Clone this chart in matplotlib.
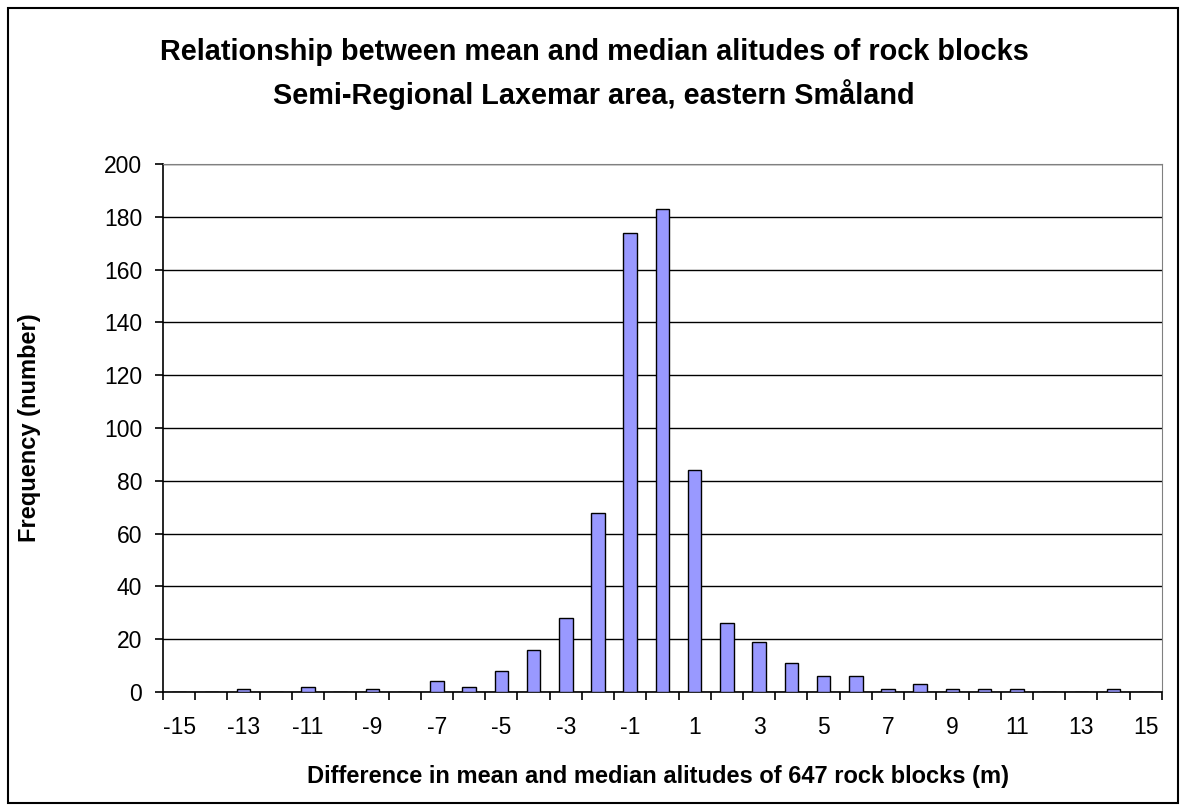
import numpy as np
import matplotlib.pyplot as plt
from matplotlib.patches import Rectangle

plt.rcParams['font.family'] = ['Liberation Sans', 'DejaVu Sans']
plt.rcParams['axes.unicode_minus'] = False

# difference classes (m) and number of rock blocks in each
diff = list(range(-15, 16))
freq = [0, 0, 1, 0, 2, 0, 1, 0, 4, 2, 8, 16, 28, 68, 174, 183,
        84, 26, 19, 11, 6, 6, 1, 3, 1, 1, 1, 0, 0, 1, 0]
label_ticks = list(range(-15, 16, 2))
yticks = list(range(0, 201, 20))

fig = plt.figure(figsize=(11.86, 8.11), dpi=100)
ax = fig.add_axes([0.1374, 0.1467, 0.8423, 0.651])

# black outer frame round the whole chart
fig.patches.append(Rectangle((8/1186, 8/811), 1170/1186, 795/811, transform=fig.transFigure,
                             fill=False, edgecolor='black', linewidth=1.5))

ax.bar(diff, freq, width=0.42, color='#9999FF', edgecolor='black', linewidth=1.0, zorder=3)

ax.set_xlim(-15.5, 15.5)
ax.set_ylim(0, 200)
ax.set_yticks(yticks)
ax.yaxis.grid(True, color='black', linewidth=1.0, zorder=0)
ax.set_axisbelow(True)

# category ticks sit between bars, labels on every second class
ax.set_xticks(np.arange(-15.5, 16, 1), minor=True)
ax.set_xticks(label_ticks)
ax.set_xticklabels([str(t) for t in label_ticks])
ax.tick_params(axis='x', which='major', length=0, pad=17, labelsize=16.5)
ax.tick_params(axis='x', which='minor', length=6, width=1.2, direction='out')
ax.tick_params(axis='y', length=6, width=1.2, direction='out', labelsize=16.5, pad=9)

for s in ['top', 'right']:
    ax.spines[s].set_color('#808080')
ax.spines['left'].set_linewidth(1.2)
ax.spines['bottom'].set_linewidth(1.2)

fig.text(594/1186, 1 - 52/811, 'Relationship between mean and median alitudes of rock blocks',
         ha='center', va='center', fontsize=20.8, fontweight='bold')
fig.text(594/1186, 1 - 95/811, 'Semi-Regional Laxemar area, eastern Småland',
         ha='center', va='center', fontsize=20.8, fontweight='bold')
fig.text(658/1186, 1 - 777/811, 'Difference in mean and median alitudes of 647 rock blocks (m)',
         ha='center', va='center', fontsize=17, fontweight='bold')
fig.text(30/1186, 1 - 428/811, 'Frequency (number)', rotation=90,
         ha='center', va='center', fontsize=17, fontweight='bold')

fig.savefig('out.png', dpi=100)
